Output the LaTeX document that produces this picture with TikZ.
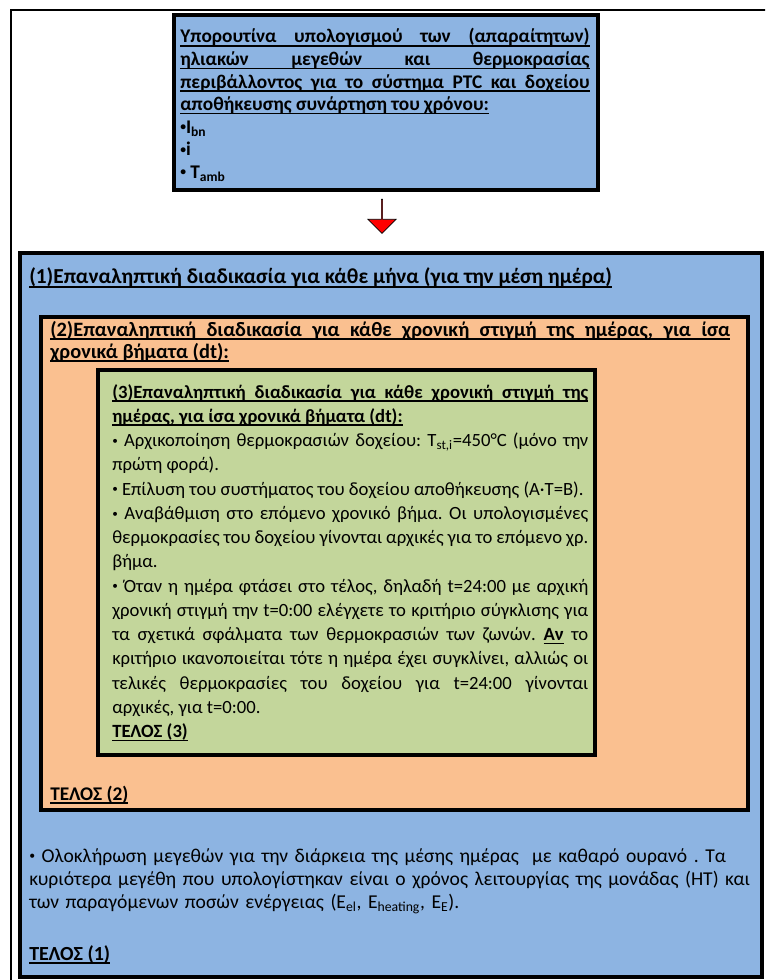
\documentclass[tikz,border=0pt]{standalone}
\usepackage{fontspec}
\usepackage{graphicx}
\setmainfont{Carlito}
\usetikzlibrary{shapes.arrows,positioning,fit}

\definecolor{boxblue}{RGB}{141,180,226}
\definecolor{boxorange}{RGB}{250,192,144}
\definecolor{boxgreen}{RGB}{195,214,155}

\setlength{\parindent}{0pt}
\hyphenpenalty=10000
\exhyphenpenalty=10000
\frenchspacing

% underlined words, with underlined (stretchable) gaps between them
\newcommand\ulbox[1]{\leavevmode\setbox0\hbox{#1}\rlap{\vrule height -1.6pt depth 2.8pt width \wd0}\box0}
\def\ulgap{\leaders\hrule height -1.6pt depth 2.8pt\hskip\fontdimen2\font plus\fontdimen3\font minus\fontdimen4\font\relax}
\def\ulstep#1 #2\ulend{\ulbox{#1}\ifx\relax#2\relax\else\ulgap\ulstep#2\ulend\fi}
\newcommand\ulwords[1]{\ulstep#1 \ulend}
% small list bullet
\newcommand\bul{\raisebox{0.12em}{\scalebox{0.6}{•}}}

\begin{document}
\begin{tikzpicture}[
    x=0.75pt, y=-0.75pt,
    box/.style={rectangle, draw, line width=2.8pt, inner sep=0pt},
    txt/.style={anchor=base west, inner sep=0pt, font=\fontsize{14}{17.1}\selectfont},
    para/.style={txt, align=justify},
    bold/.style={txt, font=\fontsize{15.5}{16.5}\selectfont\bfseries}
]
    \useasboundingbox (0,0) rectangle (765,980);
    \clip (0,0) rectangle (765,980);
    % page frame
    \draw[line width=1.5pt] (11,10) rectangle (900,1100);

    % subroutine box on top
    \node[box, fill=boxblue, fit={(174,15) (598,190)}] (sub) {};
    \node[para, text width=307pt, font=\fontsize{14.5}{16.9}\selectfont\bfseries] (subtext) at (180,43)
        {\ulwords{Υπορουτίνα υπολογισμού των (απαραίτητων) ηλιακών μεγεθών και θερμοκρασίας περιβάλλοντος για το σύστημα PTC και δοχείου αποθήκευσης συνάρτηση του χρόνου:}\par
        \bul I\textsubscript{bn}\par
        \bul i\par
        \bul\ T\textsubscript{amb}};

    % nested loops
    \node[box, fill=boxblue, fit={(20,253) (762,977)}] (loop1) {};
    \node[box, fill=boxorange, fit={(41,317) (748,810)}] (loop2) {};
    \node[box, fill=boxgreen, fit={(98,370) (595,755)}] (loop3) {};

    \node[single arrow, draw=black, fill=red, line width=0.5pt, rotate=-90,
        minimum height=25.5pt, minimum width=21pt, inner sep=0pt,
        single arrow head extend=5.6pt, single arrow head indent=0pt] (down) at (382,216) {};

    \node[bold, font=\fontsize{16}{17}\selectfont\bfseries] (title1) at (29,284)
        {\ulwords{(1)Επαναληπτική διαδικασία για κάθε μήνα (για την μέση ημέρα)}};
    \node[para, text width=510pt, font=\fontsize{15.3}{16.5}\selectfont\bfseries] (title2) at (50,336)
        {\ulwords{(2)Επαναληπτική διαδικασία για κάθε χρονική στιγμή της ημέρας, για ίσα χρονικά βήματα (dt):}};

    \node[para, text width=357pt, font=\fontsize{14}{18.2}\selectfont] (steps) at (112,398)
        {{\bfseries\ulwords{(3)Επαναληπτική διαδικασία για κάθε χρονική στιγμή της ημέρας, για ίσα χρονικά βήματα (dt):}}\par
        \bul\ Αρχικοποίηση θερμοκρασιών δοχείου: T\textsubscript{st,i}=450°C (μόνο την πρώτη φορά).\par
        \bul\ Επίλυση του συστήματος του δοχείου αποθήκευσης (A·T=B).\par
        \bul\ Αναβάθμιση στο επόμενο χρονικό βήμα. Οι υπολογισμένες θερμοκρασίες του δοχείου γίνονται αρχικές για το επόμενο χρ. βήμα.\par
        \bul\ Όταν η ημέρα φτάσει στο τέλος, δηλαδή t=24:00 με αρχική χρονική στιγμή την t=0:00 ελέγχετε το κριτήριο σύγκλισης για τα σχετικά σφάλματα των θερμοκρασιών των ζωνών. {\bfseries\ulbox{Αν}} το κριτήριο ικανοποιείται τότε η ημέρα έχει συγκλίνει, αλλιώς οι\linebreak τελικές θερμοκρασίες του δοχείου για t=24:00 γίνονται αρχικές, για t=0:00.\par
        {\bfseries\ulwords{ΤΕΛΟΣ (3)}}};

    \node[bold, font=\fontsize{14.5}{17}\selectfont\bfseries] (end2) at (50,800) {\ulwords{ΤΕΛΟΣ (2)}};

    \node[txt, text width=570pt, align=left, font=\fontsize{14.7}{17.3}\selectfont] (summary) at (29,862)
        {\bul\ Ολοκλήρωση μεγεθών για την διάρκεια της μέσης ημέρας\ \ με καθαρό ουρανό . Τα\\
        κυριότερα μεγέθη που υπολογίστηκαν είναι ο χρόνος λειτουργίας της μονάδας (HT) και\\
        των παραγόμενων ποσών ενέργειας (E\textsubscript{el}, E\textsubscript{heating}, E\textsubscript{E}).};

    \node[bold, font=\fontsize{15}{17}\selectfont\bfseries] (end1) at (29,960) {\ulwords{ΤΕΛΟΣ (1)}};
\end{tikzpicture}
\end{document}
